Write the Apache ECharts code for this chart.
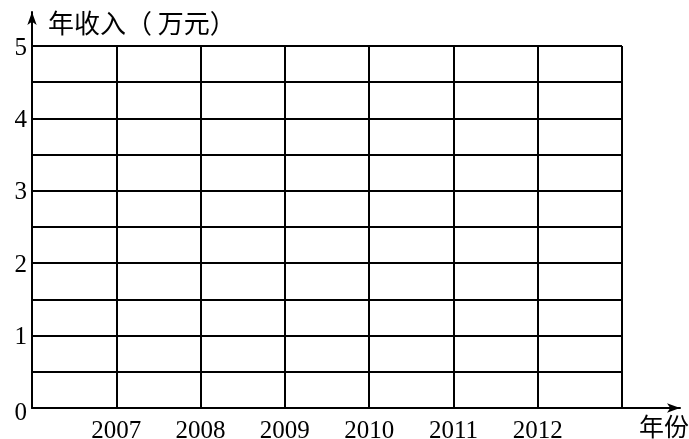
<!DOCTYPE html>
<html><head><meta charset="utf-8">
<script src="https://cdn.jsdelivr.net/npm/echarts@6/dist/echarts.min.js"></script>
<style>html,body{margin:0;padding:0;background:#fff}#c{width:689px;height:439px}</style>
</head><body><div id="c"></div>
<script>
const years = ['2007', '2008', '2009', '2010', '2011', '2012'];
const yTickLabels = ['0', '1', '2', '3', '4', '5'];
const xColumns = 7;
const yMax = 5;
const yStep = 0.5;
const yTitle = '年收入（ 万元）';
const xTitle = '年份';

const chart = echarts.init(document.getElementById('c'), null, {renderer: 'canvas'});
const lineStyle = {color: '#000', width: 2};
const serif = '"Liberation Serif", "DejaVu Serif", serif';
const cjk = '"Noto Sans CJK SC", sans-serif';
chart.setOption({
  backgroundColor: '#fff',
  animation: false,
  title: [
    {text: yTitle, left: 43, top: 5, textStyle: {fontFamily: cjk, fontSize: 26, fontWeight: 'normal', color: '#000'}},
    {text: xTitle, left: 634, top: 409, textStyle: {fontFamily: cjk, fontSize: 25, fontWeight: 'normal', color: '#000'}}
  ],
  grid: [
    {left: 32, right: 9, top: 12, bottom: 31, containLabel: false, outerBoundsMode: 'none'},
    {left: 32, right: 67, top: 46, bottom: 31, containLabel: false, outerBoundsMode: 'none'}
  ],
  xAxis: [
    {gridIndex: 0, type: 'value', min: 0, max: 1, axisLine: {show: true, lineStyle, symbol: ['none', 'arrow'], symbolSize: [7, 13]},
     axisTick: {show: false}, axisLabel: {show: false}, splitLine: {show: false}},
    {gridIndex: 1, type: 'value', min: 0, max: xColumns, interval: 1,
     axisLine: {show: false}, axisTick: {show: false},
     splitLine: {show: true, lineStyle},
     axisLabel: {show: true, margin: 11, color: '#000', fontFamily: serif, fontSize: 25,
       formatter: v => years[v - 1] || ''}}
  ],
  yAxis: [
    {gridIndex: 0, type: 'value', min: 0, max: 1, axisLine: {show: true, lineStyle, symbol: ['none', 'arrow'], symbolSize: [7, 13]},
     axisTick: {show: false}, axisLabel: {show: false}, splitLine: {show: false}},
    {gridIndex: 1, type: 'value', min: 0, max: yMax, interval: yStep,
     axisLine: {show: false}, axisTick: {show: false},
     splitLine: {show: true, lineStyle},
     axisLabel: {show: true, margin: 5, color: '#000', fontFamily: serif, fontSize: 25,
       formatter: v => (v === 0 ? '{z|' + yTickLabels[0] + '}' : (Number.isInteger(v) ? '{n|' + yTickLabels[v] + '}' : '')),
       rich: {
         z: {fontFamily: serif, fontSize: 25, color: '#000', padding: [10, 0, 0, 0]},
         n: {fontFamily: serif, fontSize: 25, color: '#000', padding: [4, 0, 0, 0]}
       }}}
  ],
  series: []
});
</script></body></html>
